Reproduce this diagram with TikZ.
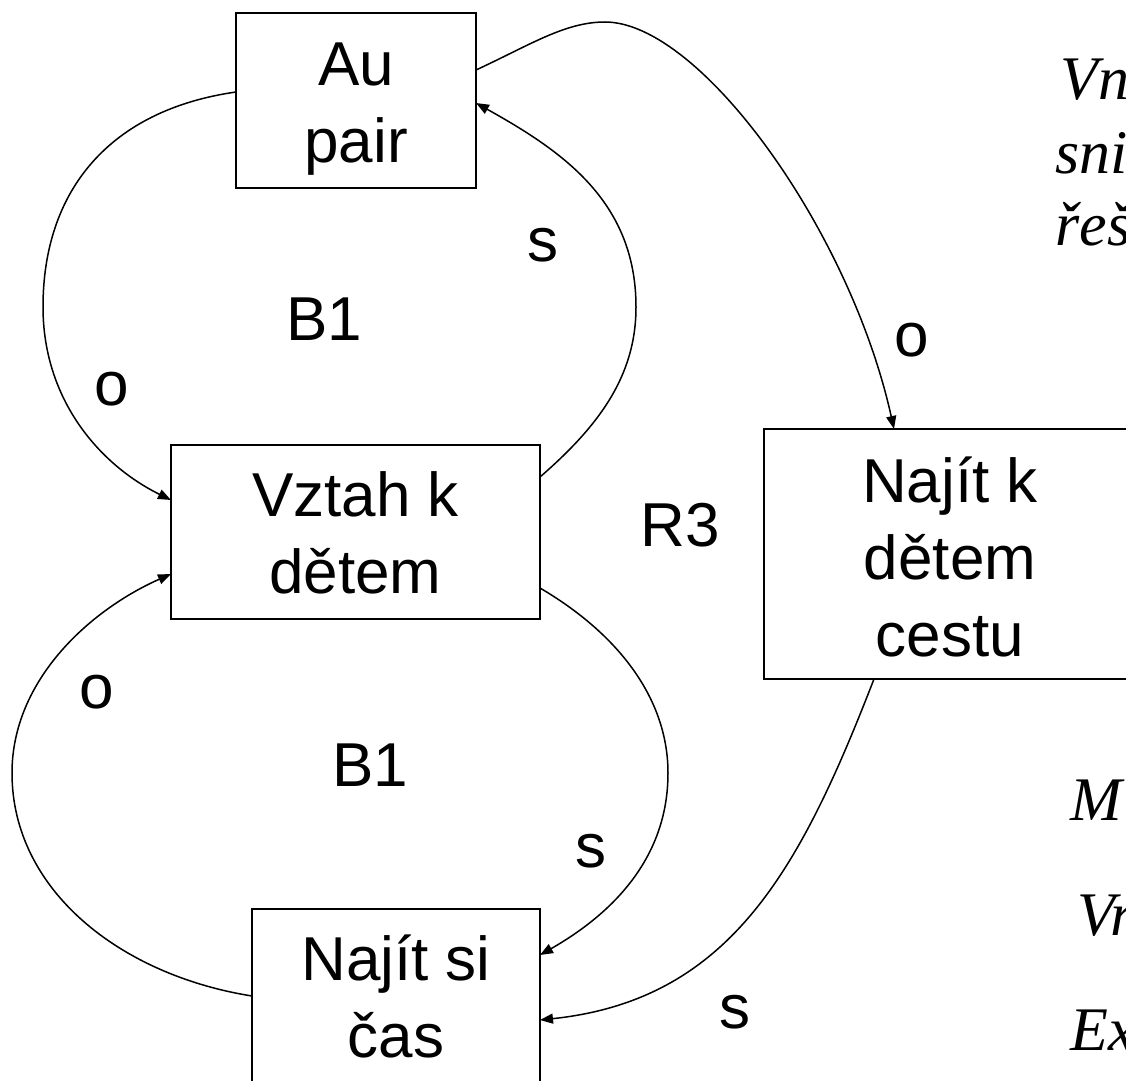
\documentclass[tikz,border=0pt]{standalone}
\usepackage{fontspec}
\setmainfont{Liberation Sans}
\newfontfamily\tnr{Liberation Serif}
\usetikzlibrary{arrows.meta,calc}
\begin{document}
\begin{tikzpicture}[x=0.5pt,y=-0.5pt,
  boxnode/.style={draw, line width=1pt, rectangle, inner sep=0pt, outer sep=0pt},
  boxtext/.style={font=\fontsize{31}{38.5}\selectfont, align=center, inner sep=0pt},
  lbl/.style={font=\fontsize{31}{37}\selectfont, inner sep=0pt},
  sidetext/.style={font=\tnr\itshape\fontsize{31}{37}\selectfont, inner sep=0pt, anchor=base west},
  link/.style={line width=0.75pt, -{Triangle[length=6.5pt,width=5pt]}}]
\useasboundingbox (0,0) rectangle (1126,1081);
\fill[white] (0,0) rectangle (1126,1081);
\clip (0,0) rectangle (1126,1081);

% boxes
\node[boxnode, minimum width=120pt, minimum height=87.5pt] (au) at (356,100.5) {};
\node[boxnode, minimum width=184.5pt, minimum height=87pt] (vz) at (355.5,532) {};
\node[boxnode, minimum width=186pt, minimum height=125pt] (nk) at (950,554) {};
\node[boxnode, minimum width=144pt, minimum height=105.5pt] (ns) at (396,1014.5) {};

% box texts
\node[boxtext] (aut) at (356,108.8) {Au\\pair};
\node[boxtext] (vzt) at (355.5,533.3) {Vztah k\\dětem};
\node[boxtext] (nkt) at (950,556.7) {Najít k\\dětem\\cestu};
\node[boxtext] (nst) at (396,996.2) {Najít si\\čas};

% labels
\node[lbl] (s1) at (543,245) {s};
\node[lbl] (b1a) at (324,319) {B1};
\node[lbl] (o1) at (112,389) {o};
\node[lbl] (o2) at (912,340) {o};
\node[lbl] (r3) at (680,525) {R3};
\node[lbl] (o3) at (97,692) {o};
\node[lbl] (b1b) at (370,765) {B1};
\node[lbl] (s2) at (591,851) {s};
\node[lbl] (s3) at (735,1012) {s};

% side texts (cut by the frame)
\node[sidetext] (t1) at (1060,100) {Vn};
\node[sidetext] (t2) at (1055,174) {sni};
\node[sidetext] (t3) at (1055,246) {řeš};
\node[sidetext] (t4) at (1070,820) {M};
\node[sidetext] (t5) at (1077,935) {Vr};
\node[sidetext] (t6) at (1070,1050) {Ex};

% connectors
\draw[link] ($(au.north west)+(0,79)$) .. controls (110,110) and (43,190) .. (43,307)
  .. controls (43,400) and (100,465) .. ($(vz.north west)+(0,55)$);
\draw[link] ($(vz.north east)+(0,32)$) .. controls (600,425) and (636,375) .. (636,307)
  .. controls (636,200) and (560,150) .. ($(au.north east)+(0,90)$);
\draw[link] ($(au.north east)+(0,57)$) .. controls (530,45) and (565,22) .. (605,22)
  .. controls (700,22) and (850,230) .. ($(nk.north west)+(130,0)$);
\draw[link] ($(vz.north east)+(0,143)$) .. controls (620,635) and (668,700) .. (668,773)
  .. controls (668,860) and (610,915) .. ($(ns.north east)+(0,46)$);
\draw[link] ($(nk.south west)+(110,0)$) .. controls (800,870) and (730,1000) .. ($(ns.north east)+(0,111)$);
\draw[link] ($(ns.north west)+(0,87)$) .. controls (120,975) and (12,890) .. (12,773)
  .. controls (12,680) and (90,610) .. ($(vz.north west)+(0,129)$);
\end{tikzpicture}
\end{document}
